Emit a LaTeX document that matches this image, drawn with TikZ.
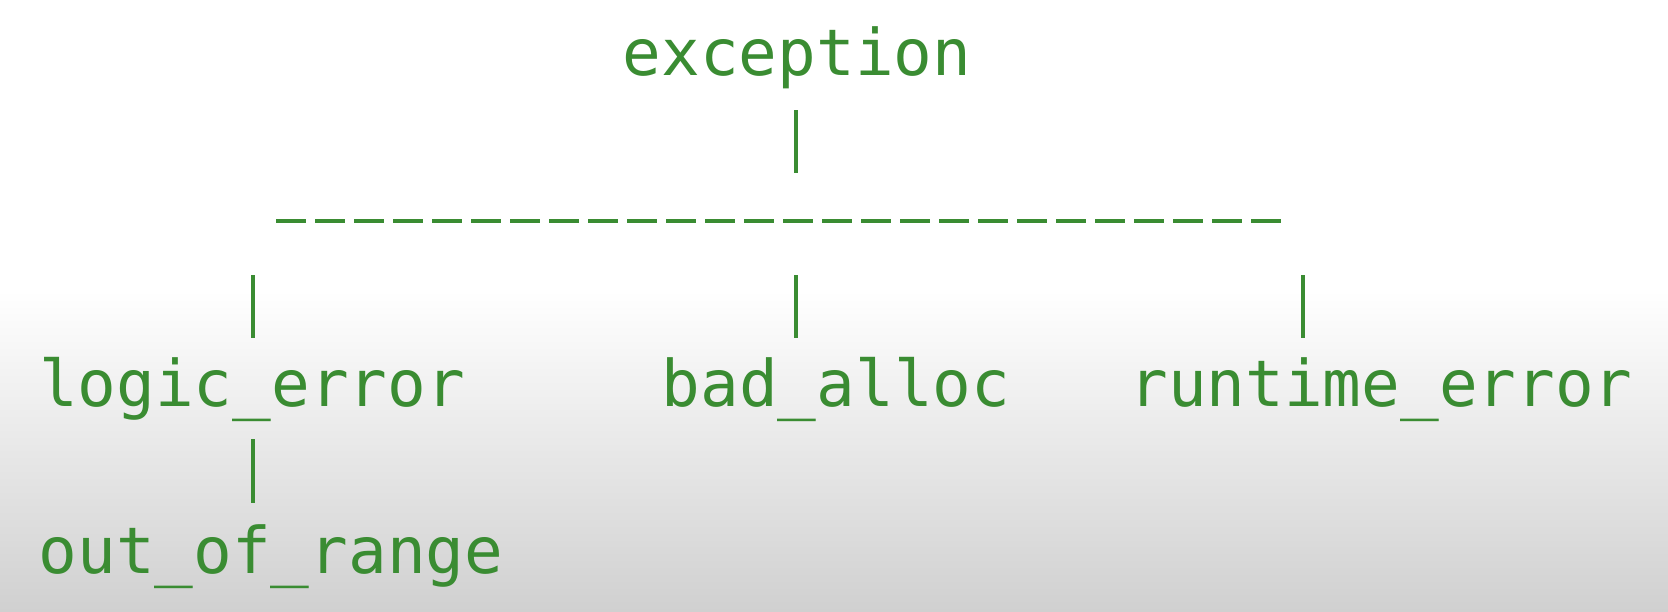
\documentclass[tikz,border=0pt]{standalone}
\usepackage{fontspec}
\usetikzlibrary{positioning}
\newfontfamily\codefont{DejaVu Sans Mono}
\definecolor{codegreen}{RGB}{58,140,50}
\definecolor{bggray}{RGB}{208,208,208}
\tikzset{
  cls/.style={anchor=base,inner sep=0pt,text=codegreen,font=\codefont\fontsize{18.3pt}{22pt}\selectfont},
  pipe/.style={draw=codegreen,line width=1.2pt},
  bar/.style={draw=codegreen,line width=1.35pt,dash pattern=on 0.295cm off 0.095cm}
}
\begin{document}
\begin{tikzpicture}
\useasboundingbox (0,0) rectangle (16.68,-6.12);
\fill[white] (0,0) rectangle (16.68,-2.9);
\shade[top color=white,bottom color=bggray] (0,-2.9) rectangle (16.68,-6.12);
\node[cls] (exc) at (7.97,-0.76) {exception};
\node[cls] (logic) at (2.52,-4.06) {logic\_error};
\node[cls] (alloc) at (8.36,-4.06) {bad\_alloc};
\node[cls] (runtime) at (13.81,-4.06) {runtime\_error};
\node[cls] (range) at (2.71,-5.73) {out\_of\_range};
\coordinate (barL) at (2.76,-2.21);
\coordinate (barR) at (12.81,-2.21);
\coordinate (exc top) at (7.96,-1.10);
\coordinate (exc bot) at (7.96,-1.73);
\coordinate (range top) at (2.53,-4.39);
\coordinate (range bot) at (2.53,-5.03);
\path[bar] (barL) -- (barR);
\path[pipe] (exc top) -- (exc bot);
\foreach \n/\x in {logic/2.53,alloc/7.96,runtime/13.03}
  {\coordinate (\n top) at (\x,-2.75);
   \coordinate (\n bot) at (\x,-3.38);
   \path[pipe] (\n top) -- (\n bot);}
\path[pipe] (range top) -- (range bot);
\end{tikzpicture}
\end{document}
